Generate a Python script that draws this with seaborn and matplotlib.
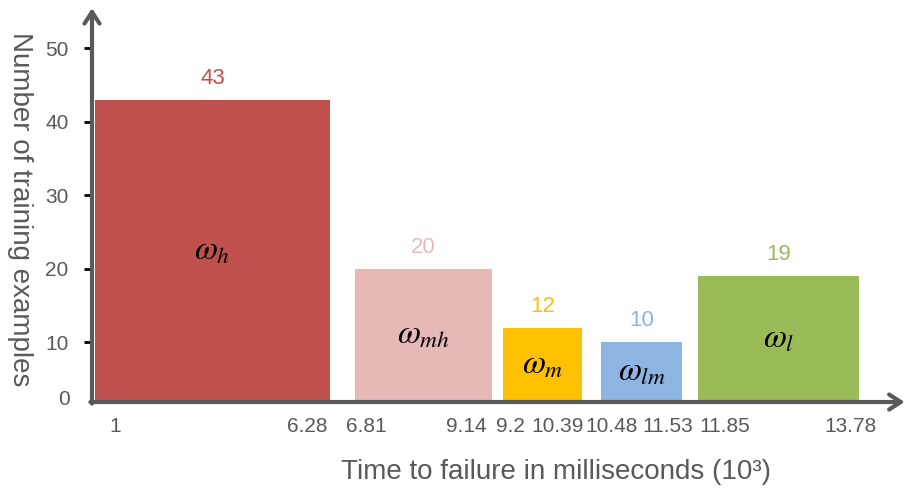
import numpy as np
import pandas as pd
import matplotlib
matplotlib.use("Agg")
import matplotlib.pyplot as plt
import seaborn as sns

# Data: failure-time classes, their interval edges (10^3 ms) and counts
classes = ["h", "mh", "m", "lm", "l"]
start_ms = [1, 6.81, 9.2, 10.48, 11.85]
end_ms = [6.28, 9.14, 10.39, 11.53, 13.78]
counts = [43, 20, 12, 10, 19]
edge_labels = ["1", "6.28", "6.81", "9.14", "9.2", "10.39", "10.48", "11.53", "11.85", "13.78"]

# Style / layout
colors = ["#C0504D", "#E6B9B8", "#FFC000", "#8DB4E2", "#9BBB59"]
edge_slots = [95, 330, 355, 492, 503, 582, 601, 682, 698, 859]  # schematic x layout (px)
label_shift = [20, -23, 11, -26, 7, -24, 11, -14, 27, -9]       # tick label nudges (px)
grey = "#595959"

sns.set_theme(style="white")
plt.rcParams["font.family"] = ["Liberation Sans", "DejaVu Sans"]
plt.rcParams["mathtext.fontset"] = "stix"

df = pd.DataFrame({
    "cls": classes,
    "mid": [(s + e) / 2 for s, e in zip(start_ms, end_ms)],
    "count": counts,
})
edges = sorted(start_ms + end_ms)

# piecewise-linear x scale so the schematic bar widths match the original
lo_slope = (edge_slots[1] - edge_slots[0]) / (edges[1] - edges[0])
hi_slope = (edge_slots[-1] - edge_slots[-2]) / (edges[-1] - edges[-2])
ext_x = [edges[0] - 100] + edges + [edges[-1] + 100]
ext_s = [edge_slots[0] - 100 * lo_slope] + edge_slots + [edge_slots[-1] + 100 * hi_slope]

def fwd(x):
    return np.interp(x, ext_x, ext_s)

def inv(s):
    return np.interp(s, ext_s, ext_x)

fig = plt.figure(figsize=(9.05, 4.91), dpi=100)
ax = fig.add_axes([92 / 905, 89 / 491, 811 / 905, 392 / 491])

sns.histplot(data=df, x="mid", weights="count", bins=edges, hue="cls",
             hue_order=classes, palette=dict(zip(classes, colors)),
             multiple="layer", alpha=1, linewidth=0, legend=False, ax=ax)

ax.set_xscale("function", functions=(fwd, inv))
ax.set_xlim(inv(92), inv(903))
ax.set_ylim(1.9, 55.2)

for sp in ax.spines.values():
    sp.set_visible(False)

# axis arrows
arrow = dict(arrowstyle="->,head_length=0.7,head_width=0.45", lw=3, color=grey,
             shrinkA=0, shrinkB=0)
ax.annotate("", xy=(0, 1.005), xytext=(0, -0.004), xycoords="axes fraction",
            arrowprops=arrow, annotation_clip=False)
ax.annotate("", xy=(1.002, 0), xytext=(-0.002, 0), xycoords="axes fraction",
            arrowprops=arrow, annotation_clip=False)

# y ticks
ax.set_yticks([10, 20, 30, 40, 50])
ax.tick_params(axis="y", left=True, length=6, width=2, color="black",
               labelcolor=grey, labelsize=15, pad=11)
ax.annotate("0", xy=(0, 0), xycoords="axes fraction", xytext=(-16, 2),
            textcoords="offset points", ha="right", va="center",
            color=grey, fontsize=15)

# x labels at bar edges
ax.set_xticks([])
for e, lab, dx in zip(edges, edge_labels, label_shift):
    ax.annotate(lab, xy=(e, 0), xycoords=ax.get_xaxis_transform(),
                xytext=(dx * 0.72, -30 * 0.72), textcoords="offset points",
                ha="center", va="baseline", color=grey, fontsize=15,
                annotation_clip=False)
ax.set_xlabel("")
ax.set_ylabel("")

# value labels and class symbols
for cls, mid, c, col in zip(classes, df["mid"], counts, colors):
    ax.annotate(str(c), xy=(mid, c), xytext=(0, 8), textcoords="offset points",
                ha="center", va="bottom", color=col, fontsize=16)
    ax.text(mid, (1.9 + c) / 2, rf"$\omega_{{{cls}}}$", ha="center", va="center",
            fontsize=24, color="black")

fig.text(556 / 905, 1 - 472 / 491, "Time to failure in milliseconds (10³)",
         ha="center", va="center", color=grey, fontsize=20)
fig.text(20 / 905, 1 - 209 / 491, "Number of training examples", rotation=-90,
         ha="center", va="center", color=grey, fontsize=20)

fig.savefig("out.png", dpi=100)
